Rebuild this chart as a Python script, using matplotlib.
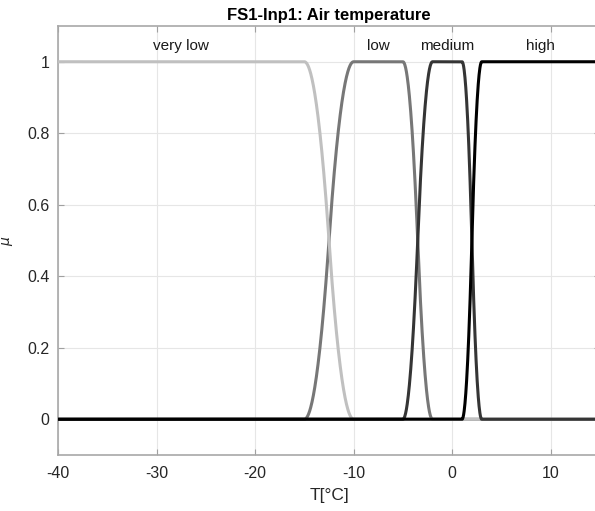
import numpy as np
import matplotlib
matplotlib.use('Agg')
import matplotlib.pyplot as plt

plt.rcParams['font.family'] = ['Liberation Sans', 'DejaVu Sans']
plt.rcParams['axes.unicode_minus'] = False

# Parametros de las funciones de pertenencia (estilo MATLAB)
x_min, x_max = -40, 15
mf_names  = ['very low', 'low', 'medium', 'high']
mf_types  = ['zmf', 'pimf', 'pimf', 'smf']
mf_params = [[-15, -10], [-15, -10, -5, -2], [-5, -2, 1, 3], [1, 3]]
mf_colors = ['#c0c0c0', '#777777', '#353535', '#000000']
mf_zorder = [3, 2, 4, 5]
x_ticks = [-40, -30, -20, -10, 0, 10]
y_ticks = [0, 0.2, 0.4, 0.6, 0.8, 1]


def smf(x, a, b):
    y = np.zeros_like(x)
    m = (a + b) / 2
    y[x >= b] = 1
    i = (x > a) & (x <= m)
    y[i] = 2 * ((x[i] - a) / (b - a)) ** 2
    i = (x > m) & (x < b)
    y[i] = 1 - 2 * ((x[i] - b) / (b - a)) ** 2
    return y


def zmf(x, a, b):
    return 1 - smf(x, a, b)


def pimf(x, a, b, c, d):
    return np.minimum(smf(x, a, b), zmf(x, c, d))


funcs = {'smf': smf, 'zmf': zmf, 'pimf': pimf}

X = np.linspace(x_min, x_max, 2000)

fig = plt.figure(figsize=(5.95, 5.11), dpi=100)
ax = fig.add_axes([58 / 595, 1 - 455 / 511, 542 / 595, 429 / 511])

for name, t, p, c, z in zip(mf_names, mf_types, mf_params, mf_colors, mf_zorder):
    ax.plot(X, funcs[t](X, *p), color=c, lw=2.2, solid_capstyle='round', zorder=z)
    # etiqueta en el centro de la meseta
    if t == 'zmf':
        xc = (x_min + p[0]) / 2
    elif t == 'smf':
        xc = (p[1] + x_max) / 2
    else:
        xc = (p[1] + p[2]) / 2
    ax.text(xc, 1.045, name, ha='center', va='center', fontsize=11, color='#1a1a1a')

ax.set_xlim(x_min, x_max)
ax.set_ylim(-0.1, 1.1)
ax.set_xticks(x_ticks)
ax.set_yticks(y_ticks)
ax.set_yticklabels(['0', '0.2', '0.4', '0.6', '0.8', '1'])
ax.grid(True, color='#e6e6e6', lw=0.8)
ax.set_axisbelow(True)
ax.tick_params(axis='x', pad=8)
ax.tick_params(axis='y', pad=6)
ax.tick_params(direction='in', length=4, width=0.8, colors='#a0a0a0',
               labelcolor='#262626', labelsize=11.5, top=True, right=True)
for s in ax.spines.values():
    s.set_color('#a8a8a8')
    s.set_linewidth(1.2)

ax.set_title('FS1-Inp1: Air temperature', fontsize=12, fontweight='bold', pad=4)
ax.set_xlabel('T[°C]', fontsize=12.5, color='#262626', labelpad=5)
ax.set_ylabel(r'$\mu$', fontsize=10, color='#262626')
ax.yaxis.set_label_coords(-0.08, 0.5)

fig.savefig('out.png', dpi=100)
